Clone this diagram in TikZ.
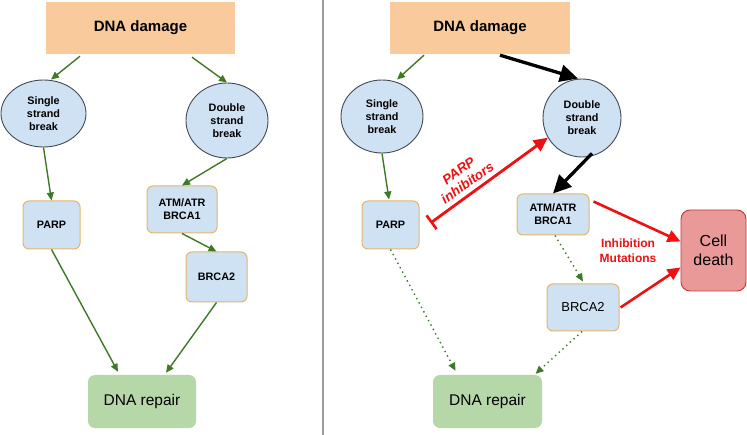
\documentclass[tikz,border=0pt]{standalone}
\usepackage{fontspec}
\setmainfont{Liberation Sans}
\usetikzlibrary{arrows.meta,shapes.geometric,calc}
\definecolor{dmgfill}{HTML}{F9CB9C}
\definecolor{lblue}{HTML}{CFE2F3}
\definecolor{ellbd}{HTML}{434A55}
\definecolor{obd}{HTML}{E8B46A}
\definecolor{repfill}{HTML}{B6D7A8}
\definecolor{cellfill}{HTML}{EA9999}
\definecolor{cellbd}{HTML}{CC3333}
\definecolor{gr}{HTML}{3D7A25}
\definecolor{rd}{HTML}{F01010}
\definecolor{divider}{HTML}{9A9A9A}
\begin{document}
\begin{tikzpicture}[x=1pt,y=-1pt,
  dmgbox/.style={rectangle, fill=dmgfill, inner sep=0pt, font=\fontsize{15}{18}\selectfont\bfseries},
  bubble/.style={ellipse, draw=ellbd, fill=lblue, line width=0.9pt, inner sep=0pt, align=center, font=\fontsize{10.8}{13}\selectfont\bfseries},
  gene/.style={rectangle, rounded corners=6pt, draw=obd, fill=lblue, line width=1pt, inner sep=0pt, align=center, font=\fontsize{10.8}{13}\selectfont\bfseries},
  repbox/.style={rectangle, rounded corners=7pt, fill=repfill, inner sep=0pt, font=\fontsize{15.5}{18}\selectfont},
  cellbox/.style={rectangle, rounded corners=9pt, draw=cellbd, fill=cellfill, line width=0.9pt, inner sep=0pt, align=center, font=\fontsize{16}{19}\selectfont},
  garrow/.style={-{Triangle[length=8pt,width=7pt]}, draw=gr, line width=1.4pt},
  gdot/.style={-{Triangle[length=8pt,width=7pt]}, draw=gr, line width=1.4pt, dash pattern=on 1.4pt off 3.6pt},
  barrow/.style={-{Triangle[length=18pt,width=17pt]}, draw=black, line width=3.3pt},
  rarrow/.style={-{Triangle[length=13pt,width=12pt]}, draw=rd, line width=2.6pt},
  rinhib/.style={{Bar[width=17pt,line width=2.6pt]}-{Triangle[length=14pt,width=13pt]}, draw=rd, line width=2.8pt},
  rlabel/.style={text=rd, align=center, inner sep=0pt}
]
\useasboundingbox (0,0) rectangle (747,435);
\fill[white] (0,0) rectangle (747,435);
\draw[divider, line width=1.5pt] (323,0) -- (323,435);

% ---------- left panel ----------
\node[dmgbox, minimum width=189pt, minimum height=52pt] (dmgL) at (140.5,28) {DNA damage};
\node[bubble, minimum width=85pt, minimum height=67pt] (ssbL) at (43.5,113.5) {Single\\strand\\break};
\node[bubble, minimum width=82pt, minimum height=75pt] (dsbL) at (227,120.5) {Double\\strand\\break};
\node[gene, minimum width=57pt, minimum height=48pt] (parpL) at (51.5,225) {PARP};
\node[gene, minimum width=70pt, minimum height=47pt] (atmL) at (182,209.5) {ATM/ATR\\BRCA1};
\node[gene, minimum width=61pt, minimum height=50pt] (brcaL) at (216.5,277) {BRCA2};
\node[repbox, minimum width=108pt, minimum height=53pt] (repL) at (142,401.5) {DNA repair};

\draw[garrow] ($(dmgL.south)+(-60.5,2)$) -- ($(ssbL.north)+(7.5,0)$);
\draw[garrow] ($(dmgL.south)+(51.5,3)$) -- (dsbL.north);
\draw[garrow] (ssbL.south) -- (parpL.north);
\draw[garrow] (dsbL.south) -- (atmL.north);
\draw[garrow] (atmL.south) -- (brcaL.north);
\draw[garrow] (parpL.south) -- ($(repL.north)+(-24,-3)$);
\draw[garrow] (brcaL.south) -- ($(repL.north)+(24,-2)$);

% ---------- right panel ----------
\node[dmgbox, minimum width=180pt, minimum height=52pt] (dmgR) at (480,28) {DNA damage};
\node[bubble, minimum width=82pt, minimum height=73pt] (ssbR) at (382,116.5) {Single\\strand\\break};
\node[bubble, minimum width=78pt, minimum height=78pt] (dsbR) at (582,118) {Double\\strand\\break};
\node[gene, minimum width=57pt, minimum height=48pt] (parpR) at (390.5,225) {PARP};
\node[gene, minimum width=72pt, minimum height=41pt] (atmR) at (553,214.5) {ATM/ATR\\BRCA1};
\node[gene, minimum width=72pt, minimum height=47pt, font=\fontsize{13}{15}\selectfont] (brcaR) at (583,307.5) {BRCA2};
\node[repbox, minimum width=109pt, minimum height=53pt] (repR) at (487.5,401.5) {DNA repair};
\node[cellbox, minimum width=65pt, minimum height=81pt] (cell) at (713.5,250.5) {Cell\\death};

\draw[garrow] ($(dmgR.south)+(-56,1)$) -- ($(ssbR.north)+(15,0)$);
\draw[barrow] ($(dmgR.south)+(20,1)$) -- ($(dsbR.north)+(-4,0)$);
\draw[garrow] (ssbR.south) -- ($(parpR.north)+(-1.5,-1)$);
\draw[barrow] ($(dsbR.south)+(10,-4)$) -- (atmR.north);
\draw[rinhib] ($(parpR.east)+(11,-2)$) -- (dsbR.210);
\draw[gdot] ($(atmR.south)+(2,0)$) -- ($(brcaR.north)+(0,-2)$);
\draw[gdot] (parpR.south) -- ($(repR.north)+(-32,-4)$);
\draw[gdot] ($(brcaR.south)+(-1,0)$) -- ($(repR.north)+(48,-1)$);
\draw[rarrow] ($(atmR.east)+(4,-13)$) -- ($(cell.west)+(0,-9)$);
\draw[rarrow] ($(brcaR.east)+(1,0)$) -- ($(cell.west)+(0,17)$);

\node[rlabel, rotate=36, font=\fontsize{13.5}{15}\selectfont\bfseries\itshape] (pilab) at (463,177) {PARP\\inhibitors};
\node[rlabel, font=\fontsize{12}{15}\selectfont\bfseries] (imlab) at (628,250.5) {Inhibition\\Mutations};
\end{tikzpicture}
\end{document}
